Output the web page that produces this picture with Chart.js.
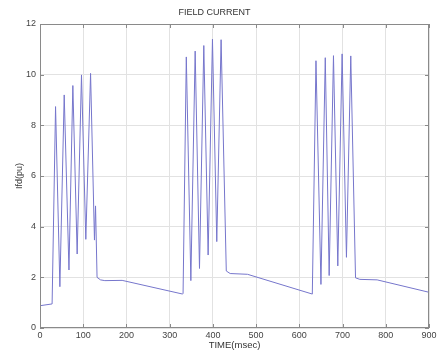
<!DOCTYPE html>
<html>
<head>
<meta charset="utf-8">
<script src="https://cdn.jsdelivr.net/npm/chart.js@4"></script>
<style>
  html, body { margin: 0; padding: 0; background: #fff; }
  #wrap { width: 440px; height: 351px; }
</style>
</head>
<body>
<div id="wrap"><canvas id="fieldChart"></canvas></div>
<script>
// values
const timeMs = [0, 28, 36, 46, 56, 67, 76, 86, 96, 106, 117, 126, 128.5, 132, 140, 150, 190, 330,
                331, 338.5, 349, 359, 369, 379, 389, 399, 409, 419, 431, 440, 480, 630,
                631, 638.5, 650, 660, 669, 679, 689, 699, 709, 719, 730, 740, 780, 900];
const ifdPu = [0.88, 0.95, 8.74, 1.63, 9.2, 2.29, 9.57, 2.92, 9.99, 3.5, 10.05, 3.47, 4.82, 2.0, 1.9, 1.87, 1.88, 1.34,
               1.37, 10.7, 1.87, 10.93, 2.35, 11.15, 2.88, 11.4, 3.41, 11.38, 2.25, 2.15, 2.12, 1.34,
               1.34, 10.55, 1.72, 10.67, 2.07, 10.75, 2.45, 10.82, 2.79, 10.74, 1.98, 1.92, 1.9, 1.41];
const xTicks = [0, 100, 200, 300, 400, 500, 600, 700, 800, 900];
const yTicks = [0, 2, 4, 6, 8, 10, 12];

const points = timeMs.map((t, i) => ({ x: t, y: ifdPu[i] }));

// MATLAB style box with inward tick marks
const boxPlugin = {
    id: 'box',
    afterDraw(chart) {
        const ctx = chart.ctx;
        const a = chart.chartArea;
        const xs = chart.scales.x, ys = chart.scales.y;
        ctx.save();
        ctx.strokeStyle = '#8a8a8a';
        ctx.lineWidth = 1;
        ctx.strokeRect(a.left + 0.5, a.top + 0.5, a.right - a.left - 1, a.bottom - a.top - 1);
        ctx.beginPath();
        xTicks.forEach(v => {
            const px = Math.round(xs.getPixelForValue(v)) + 0.5;
            ctx.moveTo(px, a.bottom); ctx.lineTo(px, a.bottom - 4);
            ctx.moveTo(px, a.top); ctx.lineTo(px, a.top + 4);
        });
        yTicks.forEach(v => {
            const py = Math.round(ys.getPixelForValue(v)) + 0.5;
            ctx.moveTo(a.left, py); ctx.lineTo(a.left + 4, py);
            ctx.moveTo(a.right, py); ctx.lineTo(a.right - 4, py);
        });
        ctx.stroke();
        ctx.restore();
    }
};

const ctx = document.getElementById('fieldChart').getContext('2d');
new Chart(ctx, {
    type: 'line',
    data: {
        datasets: [{
            data: points,
            borderColor: 'rgb(118, 118, 204)',
            borderWidth: 1,
            pointRadius: 0,
            tension: 0,
            fill: false
        }]
    },
    options: {
        responsive: true,
        maintainAspectRatio: false,
        animation: false,
        layout: { padding: { right: 11 } },
        plugins: {
            legend: { display: false },
            tooltip: { enabled: false },
            title: {
                display: true,
                text: 'FIELD CURRENT',
                color: '#333',
                font: { family: 'Liberation Sans, Arial, sans-serif', size: 9, weight: 'normal' },
                padding: { top: 7.5, bottom: 5.7 }
            }
        },
        scales: {
            x: {
                type: 'linear',
                min: 0,
                max: 900,
                afterBuildTicks: s => { s.ticks = xTicks.map(v => ({ value: v })); },
                afterFit: s => { s.height = 23; },
                grid: { color: '#e2e2e2', drawTicks: false },
                border: { display: false },
                ticks: {
                    padding: 2,
                    color: '#444',
                    maxRotation: 0,
                    font: { family: 'Liberation Sans, Arial, sans-serif', size: 9 }
                },
                title: {
                    display: true,
                    text: 'TIME(msec)',
                    color: '#333',
                    padding: { top: 0, bottom: 0 },
                    font: { family: 'Liberation Sans, Arial, sans-serif', size: 9.5 }
                }
            },
            y: {
                min: 0,
                max: 12,
                afterBuildTicks: s => { s.ticks = yTicks.map(v => ({ value: v })); },
                afterFit: s => { s.width = 40; },
                grid: { color: '#e2e2e2', drawTicks: false },
                border: { display: false },
                ticks: {
                    padding: 4,
                    color: '#444',
                    font: { family: 'Liberation Sans, Arial, sans-serif', size: 9 }
                },
                title: {
                    display: true,
                    text: 'Ifd(pu)',
                    color: '#333',
                    padding: { top: 14.5 },
                    font: { family: 'Liberation Sans, Arial, sans-serif', size: 9 }
                }
            }
        }
    },
    plugins: [boxPlugin]
});
</script>
</body>
</html>
